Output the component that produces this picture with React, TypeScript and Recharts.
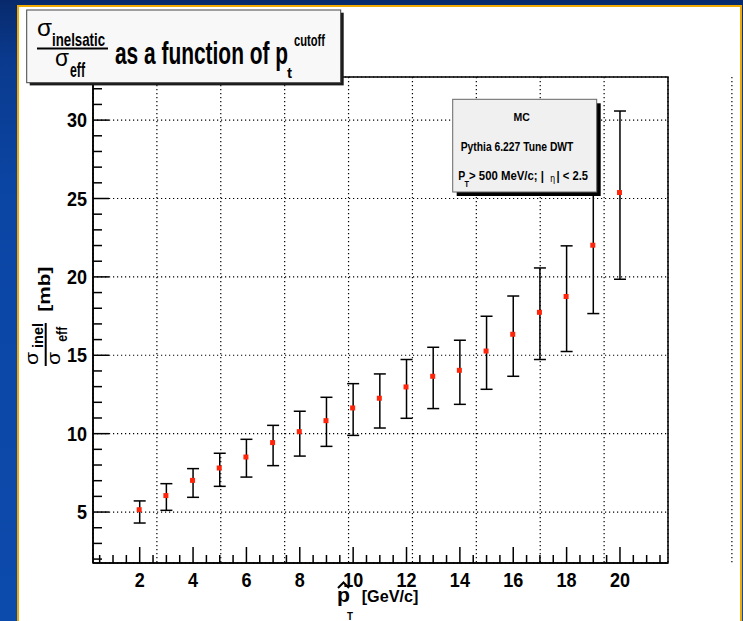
import React from "react";
import {
  ComposedChart,
  Scatter,
  ErrorBar,
  XAxis,
  YAxis,
  CartesianGrid,
  ReferenceArea,
} from "recharts";

// pT cutoff [GeV/c]
const ptCutoff = [2, 3, 4, 5, 6, 7, 8, 9, 10, 11, 12, 13, 14, 15, 16, 17, 18, 19, 20];
// sigma_inel / sigma_eff [mb]
const sigmaRatio = [
  5.15, 6.05, 7.02, 7.81, 8.51, 9.43, 10.13, 10.83, 11.64, 12.26, 12.98, 13.66, 14.04,
  15.27, 16.34, 17.74, 18.75, 22.02, 25.38,
];
const errDown = [
  0.85, 0.94, 1.08, 1.17, 1.28, 1.47, 1.56, 1.64, 1.75, 1.9, 2.0, 2.06, 2.17, 2.44, 2.68,
  3.01, 3.51, 4.36, 5.53,
];
const errUp = [
  0.56, 0.76, 0.75, 0.94, 1.13, 1.1, 1.3, 1.49, 1.55, 1.55, 1.75, 1.85, 1.92, 2.22, 2.44,
  2.83, 3.23, 4.36, 5.2,
];

const xRange = [0.25, 21.8];
const yRange = [1.75, 32.75];
const xMajorTicks = [2, 4, 6, 8, 10, 12, 14, 16, 18, 20];
const xMinorTicks = [
  0.5, 1, 1.5, 2, 2.5, 3, 3.5, 4, 4.5, 5, 5.5, 6, 6.5, 7, 7.5, 8, 8.5, 9, 9.5, 10, 10.5,
  11, 11.5, 12, 12.5, 13, 13.5, 14, 14.5, 15, 15.5, 16, 16.5, 17, 17.5, 18, 18.5, 19,
  19.5, 20, 20.5, 21, 21.5,
];
const yMajorTicks = [5, 10, 15, 20, 25, 30];
const yMinorTicks = [
  2, 3, 4, 5, 6, 7, 8, 9, 10, 11, 12, 13, 14, 15, 16, 17, 18, 19, 20, 21, 22, 23, 24, 25,
  26, 27, 28, 29, 30, 31, 32,
];

const FONT = '"Liberation Sans", Arial, Helvetica, sans-serif';

const points = ptCutoff.map((x, i) => ({
  x,
  y: sigmaRatio[i],
  err: [errDown[i], errUp[i]],
}));

const axisLineStyle = { stroke: "#000", strokeWidth: 1.5 };

const numberStyle = {
  fontSize: 20,
  fontWeight: 700,
  fontFamily: FONT,
  fill: "#000",
};

// bottom axis: inward tick marks, labels only on the major ones
const XTick = (props: any) => {
  const { x, y, payload } = props;
  const major = xMajorTicks.includes(payload.value);
  return (
    <g>
      <line x1={x} x2={x} y1={y} y2={y - (major ? 16 : 8)} stroke="#000" strokeWidth={1.5} />
      {major && (
        <text
          transform={`translate(${x},${y + 23.5}) scale(0.9,1)`}
          textAnchor="middle"
          {...numberStyle}
        >
          {payload.value}
        </text>
      )}
    </g>
  );
};

// left axis: inward tick marks, labels only on the major ones
const YTick = (props: any) => {
  const { x, y, payload } = props;
  const major = yMajorTicks.includes(payload.value);
  return (
    <g>
      <line x1={x} x2={x + (major ? 16 : 9)} y1={y} y2={y} stroke="#000" strokeWidth={1.5} />
      {major && (
        <text
          transform={`translate(${x - 6},${y + 7.2}) scale(0.9,1)`}
          textAnchor="end"
          {...numberStyle}
        >
          {payload.value}
        </text>
      )}
    </g>
  );
};

const Marker = (props: any) => (
  <rect x={props.cx - 3} y={props.cy - 2.5} width={5} height={5} fill="#ff250a" />
);

// condensed text helper: squeezes the string into width w
const T = ({ x, y, w, size, bold = true, anchor, children }: any) => (
  <text
    x={x}
    y={y}
    fontSize={size}
    fontWeight={bold ? 700 : 400}
    fontFamily={FONT}
    fill="#000"
    textAnchor={anchor}
    textLength={w}
    lengthAdjust={w ? "spacingAndGlyphs" : undefined}
  >
    {children}
  </text>
);

// text running bottom-to-top, (x, y) is the start of the baseline
const RT = ({ x, y, ...rest }: any) => (
  <g transform={`translate(${x},${y}) rotate(-90)`}>
    <T x={0} y={0} {...rest} />
  </g>
);

const Overlay = () => (
  <svg
    width={743}
    height={621}
    style={{ position: "absolute", left: 0, top: 0, pointerEvents: "none" }}
  >
    {/* title pave */}
    <rect x={29.7} y={12.7} width={314} height={72.7} fill="#1a1a1a" />
    <rect x={26.7} y={10} width={314} height={72.7} fill="#f8f8f8" stroke="#444" strokeWidth={1} />
    <T x={37} y={36} w={15} size={24} bold={false}>σ</T>
    <T x={52} y={45.5} w={53} size={19}>inelsatic</T>
    <line x1={37} x2={108} y1={48.5} y2={48.5} stroke="#000" strokeWidth={2} />
    <T x={55} y={65.7} w={14} size={24} bold={false}>σ</T>
    <T x={70} y={76.7} w={15} size={20}>eff</T>
    <T x={115} y={64} w={173} size={32}>as a function of p</T>
    <T x={287} y={77.7} w={5} size={15}>t</T>
    <T x={294} y={45.7} w={31} size={17}>cutoff</T>

    {/* info pave */}
    <rect x={456.7} y={103.3} width={144} height={92.7} fill="#000" />
    <rect x={452.7} y={99.3} width={144} height={92.7} fill="#f0f0f0" stroke="#666" strokeWidth={1} />
    <T x={521.7} y={121} size={10.5} anchor="middle">MC</T>
    <T x={460.7} y={151} w={112.7} size={13.5}>Pythia 6.227 Tune DWT</T>
    <T x={458.3} y={179.5} w={7} size={13.5}>P</T>
    <T x={464.5} y={187} w={4.5} size={9}>T</T>
    <T x={469} y={179.5} w={75} size={13.5}>&gt; 500 MeV/c; |</T>
    <T x={550.3} y={182} w={4.8} size={11} bold={false}>η</T>
    <T x={556.5} y={179.5} w={31.5} size={13.5}>| &lt; 2.5</T>

    {/* y axis title */}
    <RT x={38.3} y={365} w={13} size={19} bold={false}>σ</RT>
    <RT x={43} y={348} w={25} size={15}>inel</RT>
    <line x1={45.7} x2={45.7} y1={323} y2={366} stroke="#000" strokeWidth={2} />
    <RT x={60} y={365} w={13} size={19} bold={false}>σ</RT>
    <RT x={66.7} y={341.7} w={15} size={15}>eff</RT>
    <RT x={50} y={311.7} w={45} size={17}>[mb]</RT>

    {/* x axis title */}
    <T x={337} y={602} w={13} size={20}>p</T>
    <path d="M338,588 L343.5,582.5 L349,588" fill="none" stroke="#000" strokeWidth={2} />
    <T x={347} y={620} w={6} size={11}>T</T>
    <T x={361.7} y={602} w={56.7} size={17}>[GeV/c]</T>
  </svg>
);

export default function App() {
  return (
    <div
      style={{
        position: "absolute",
        left: 0,
        top: 0,
        width: 743,
        height: 621,
        overflow: "hidden",
        background:
          "linear-gradient(180deg, #082a6c 0px, #0a3a8e 60px, #0b46a5 200px, #0c4aab 100%)",
      }}
    >
      <div
        style={{
          position: "absolute",
          left: 17,
          top: 5,
          width: 721,
          height: 620,
          background: "#fff",
          borderTop: "2px solid #f2a900",
          borderLeft: "2px solid #f2a900",
          borderRight: "2px solid #f2a900",
        }}
      />
      <div style={{ position: "absolute", left: 0, top: 0 }}>
        <ComposedChart
          width={743}
          height={621}
          data={points}
          margin={{ top: 77, right: 75, bottom: 28, left: 33 }}
        >
          {/* zero-size hidden axes that only feed the dotted grid */}
          <XAxis
            xAxisId="gx"
            type="number"
            domain={xRange}
            allowDataOverflow
            ticks={xMajorTicks}
            interval={0}
            height={0}
            hide
          />
          <YAxis
            yAxisId="gy"
            type="number"
            domain={yRange}
            allowDataOverflow
            ticks={yMajorTicks}
            interval={0}
            width={0}
            hide
          />
          <XAxis
            xAxisId="x"
            type="number"
            dataKey="x"
            domain={xRange}
            allowDataOverflow
            ticks={xMinorTicks}
            interval={0}
            tickLine={false}
            tickSize={0}
            tickMargin={0}
            height={30}
            axisLine={axisLineStyle}
            tick={XTick}
          />
          <YAxis
            yAxisId="y"
            type="number"
            dataKey="y"
            domain={yRange}
            allowDataOverflow
            ticks={yMinorTicks}
            interval={0}
            tickLine={false}
            tickSize={0}
            tickMargin={0}
            width={60}
            axisLine={axisLineStyle}
            tick={YTick}
          />
          <CartesianGrid
            xAxisId="gx"
            yAxisId="gy"
            stroke="#000"
            strokeWidth={1.2}
            strokeDasharray="1.2 2.8"
          />
          <ReferenceArea
            xAxisId="x"
            yAxisId="y"
            x1={xRange[0]}
            x2={xRange[1]}
            y1={yRange[0]}
            y2={yRange[1]}
            fill="none"
            stroke="#000"
            strokeWidth={1.5}
            ifOverflow="visible"
          />
          <Scatter
            xAxisId="x"
            yAxisId="y"
            data={points}
            dataKey="y"
            shape={Marker}
            isAnimationActive={false}
          >
            <ErrorBar
              dataKey="err"
              direction="y"
              width={6}
              stroke="#000"
              strokeWidth={1.5}
              isAnimationActive={false}
            />
          </Scatter>
        </ComposedChart>
      </div>
      <Overlay />
    </div>
  );
}
